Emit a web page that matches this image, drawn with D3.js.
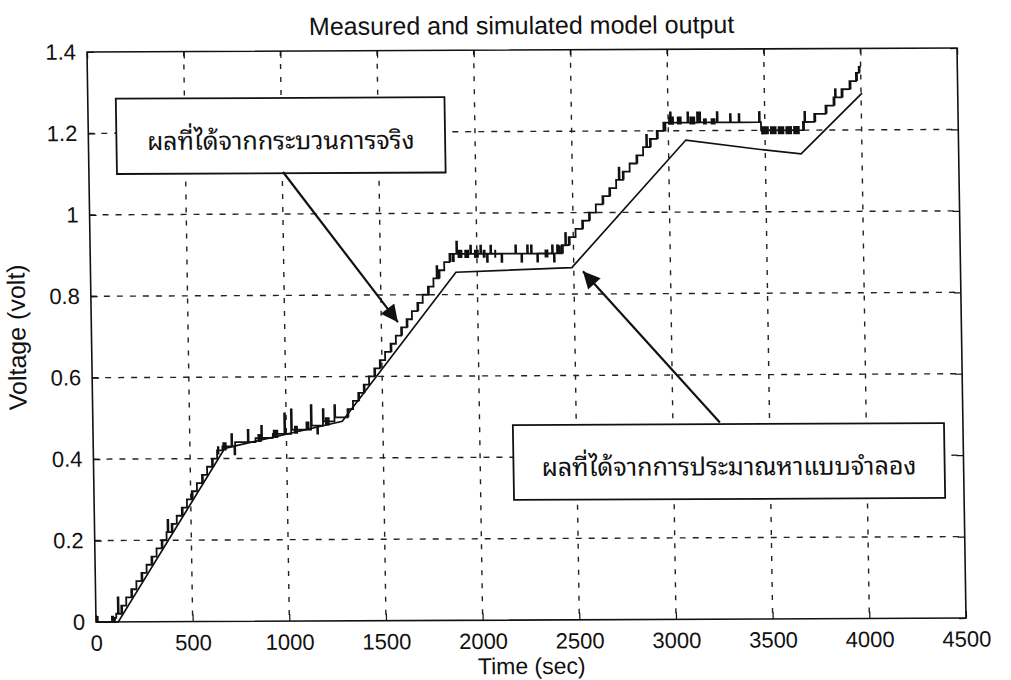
<!DOCTYPE html>
<html>
<head>
<meta charset="utf-8">
<script src="https://cdn.jsdelivr.net/npm/d3@7"></script>
<style>
  body { margin: 0; background: #fff; }
  svg text { font-family: Arial, "Liberation Sans", Helvetica, sans-serif; fill: #111; }
  svg text.thai { font-family: "Noto Sans Thai Looped", "Noto Serif Thai", "Noto Sans Thai", Tahoma, sans-serif; }
</style>
</head>
<body>
<svg id="chart"></svg>
<script>
var svg_width = 1011
var svg_height = 680
var plot_w = 870
var plot_h = 570

// TICKS
var xTicks = [0, 500, 1000, 1500, 2000, 2500, 3000, 3500, 4000, 4500];
var yTicks = [0, 0.2, 0.4, 0.6, 0.8, 1, 1.2, 1.4];
var yTickLabels = ["0", "0.2", "0.4", "0.6", "0.8", "1", "1.2", "1.4"];

// SIMULATED MODEL OUTPUT (corner points of the smooth line)
var simTime = [0, 115, 680, 1290, 1890, 2490, 3090, 3475, 3685, 4005];
var simVolt = [0, 0, 0.425, 0.49, 0.855, 0.865, 1.177, 1.153, 1.142, 1.29];

// MEASURED OUTPUT, [time, volt] where the quantized signal changes level
var measuredStart = [[0, 0], [98, 0.01]];
var measuredRise1 = [[105, 0.02], [114, 0.06], [118, 0.02], [132, 0.04], [158, 0.06], [185, 0.08],
    [212, 0.10], [239, 0.12], [266, 0.14], [292, 0.16], [319, 0.18], [346, 0.20], [372, 0.22],
    [378, 0.25], [382, 0.22], [399, 0.24], [426, 0.26], [453, 0.28], [480, 0.30], [506, 0.32],
    [533, 0.34], [560, 0.36], [587, 0.38], [613, 0.40], [640, 0.42]];
var measuredPlateau1 = [[668, 0.43], [715, 0.46], [719, 0.43], [730, 0.41], [734, 0.44], [800, 0.47],
    [804, 0.44], [840, 0.45], [870, 0.48], [874, 0.45], [930, 0.46], [990, 0.51], [994, 0.46],
    [1025, 0.52], [1029, 0.47], [1128, 0.53], [1132, 0.48], [1160, 0.46], [1164, 0.48],
    [1190, 0.52], [1194, 0.49], [1250, 0.53], [1254, 0.50]];
var measuredRise2 = [[1318, 0.52], [1347, 0.54], [1375, 0.56], [1404, 0.58], [1432, 0.60], [1460, 0.62],
    [1489, 0.64], [1517, 0.66], [1546, 0.68], [1574, 0.70], [1602, 0.72], [1631, 0.74], [1659, 0.76],
    [1688, 0.78], [1716, 0.80], [1744, 0.82], [1773, 0.84], [1790, 0.87], [1794, 0.84], [1801, 0.86],
    [1830, 0.88], [1858, 0.90]];
var measuredPlateau2 = [[1894, 0.93], [1898, 0.90], [1966, 0.92], [1970, 0.90], [2018, 0.92], [2022, 0.90],
    [2052, 0.88], [2056, 0.90], [2070, 0.92], [2074, 0.90], [2127, 0.88], [2131, 0.90], [2199, 0.92],
    [2203, 0.90], [2230, 0.88], [2234, 0.90], [2260, 0.92], [2264, 0.90], [2280, 0.92], [2284, 0.90],
    [2312, 0.88], [2316, 0.90], [2389, 0.92], [2393, 0.90], [2398, 0.88], [2402, 0.90], [2415, 0.92],
    [2419, 0.90]];
var measuredRise3 = [[2440, 0.92], [2458, 0.95], [2462, 0.92], [2476, 0.94], [2512, 0.96], [2547, 0.98],
    [2583, 1.00], [2619, 1.02], [2654, 1.04], [2690, 1.06], [2726, 1.08], [2740, 1.11], [2744, 1.08],
    [2761, 1.10], [2797, 1.12], [2833, 1.14], [2868, 1.16], [2885, 1.19], [2889, 1.16], [2904, 1.18],
    [2940, 1.20], [2975, 1.22]];
var measuredPlateau3 = [[3010, 1.245], [3014, 1.22], [3100, 1.245], [3104, 1.22], [3150, 1.245],
    [3154, 1.22], [3162, 1.245], [3166, 1.22], [3252, 1.245], [3256, 1.22], [3320, 1.24], [3324, 1.22],
    [3365, 1.24], [3369, 1.22], [3470, 1.245], [3474, 1.22], [3480, 1.20]];
var measuredRise4 = [[3697, 1.22], [3705, 1.245], [3709, 1.22], [3756, 1.24], [3815, 1.26], [3857, 1.28],
    [3865, 1.30], [3869, 1.28], [3899, 1.30], [3941, 1.32], [3975, 1.34], [3990, 1.355], [4000, 1.355]];

// fast chatter between two levels: [t0, t1, vLow, vHigh]
var chatter = [
    [0, 14, 0, 0.015], [78, 94, 0, 0.015], [132, 141, 0.02, 0.04], [185, 194, 0.06, 0.08],
    [239, 248, 0.10, 0.12], [292, 301, 0.14, 0.16], [346, 355, 0.18, 0.20], [399, 408, 0.22, 0.24],
    [453, 462, 0.26, 0.28], [506, 515, 0.30, 0.32], [560, 569, 0.34, 0.36], [613, 622, 0.38, 0.40],
    [640, 652, 0.41, 0.43],
    [668, 690, 0.42, 0.44], [850, 872, 0.44, 0.46], [930, 958, 0.45, 0.47], [1040, 1060, 0.46, 0.48],
    [1100, 1120, 0.47, 0.49], [1200, 1225, 0.48, 0.50],
    [1318, 1327, 0.50, 0.52], [1375, 1384, 0.54, 0.56], [1404, 1413, 0.56, 0.58], [1460, 1469, 0.60, 0.62],
    [1489, 1498, 0.62, 0.64], [1546, 1555, 0.66, 0.68], [1602, 1611, 0.70, 0.72], [1631, 1640, 0.72, 0.74],
    [1688, 1697, 0.76, 0.78], [1744, 1753, 0.80, 0.82], [1801, 1810, 0.84, 0.86], [1858, 1868, 0.88, 0.90],
    [1870, 1885, 0.88, 0.90], [1900, 1925, 0.89, 0.91], [1935, 1960, 0.89, 0.91], [1985, 2010, 0.89, 0.91],
    [2030, 2045, 0.89, 0.91], [2090, 2100, 0.89, 0.91], [2350, 2370, 0.89, 0.91], [2420, 2435, 0.90, 0.92],
    [2440, 2450, 0.90, 0.92], [2476, 2486, 0.92, 0.94], [2547, 2556, 0.96, 0.98], [2583, 2592, 0.98, 1.00],
    [2654, 2663, 1.02, 1.04], [2690, 2699, 1.04, 1.06], [2761, 2770, 1.08, 1.10], [2833, 2842, 1.12, 1.14],
    [2904, 2913, 1.16, 1.18], [2940, 2950, 1.18, 1.20], [2975, 2990, 1.20, 1.22],
    [3000, 3030, 1.215, 1.235], [3045, 3070, 1.215, 1.235], [3110, 3140, 1.215, 1.235],
    [3180, 3200, 1.215, 1.23], [3220, 3245, 1.215, 1.23],
    [3480, 3520, 1.19, 1.21], [3526, 3560, 1.19, 1.21], [3566, 3600, 1.19, 1.21],
    [3606, 3640, 1.19, 1.21], [3646, 3680, 1.19, 1.21],
    [3697, 3707, 1.20, 1.22], [3756, 3766, 1.22, 1.24], [3815, 3825, 1.24, 1.26], [3857, 3867, 1.26, 1.28],
    [3899, 3909, 1.28, 1.30], [3941, 3951, 1.30, 1.32], [3975, 3985, 1.32, 1.34], [3990, 3999, 1.34, 1.355]
];

// ANNOTATIONS (in data units)
var boxLabels = ["ผลที่ได้จากกระบวนการจริง", "ผลที่ได้จากการประมาณหาแบบจำลอง"];
var boxTime = [[145, 1845], [2172, 4402]];
var boxVolt = [[1.285, 1.10], [0.479, 0.295]];
var arrowFrom = [[1004, 1.103], [3243, 0.483]];
var arrowTo = [[1586, 0.733], [2547, 0.856]];

var simulated = simTime.map(function(t, i) { return [t, simVolt[i]]; });
var measured = [].concat(measuredStart, measuredRise1, measuredPlateau1, measuredRise2,
                         measuredPlateau2, measuredRise3, measuredPlateau3, measuredRise4);

//SCALES
var xScale = d3.scaleLinear().domain([0, 4500]).range([0, plot_w]);
var yScale = d3.scaleLinear().domain([0, 1.4]).range([plot_h, 0]);

var svg = d3.select("#chart")
    .attr("width", svg_width)
    .attr("height", svg_height);

svg.append("rect")
    .attr("width", svg_width)
    .attr("height", svg_height)
    .attr("fill", "#fff");

// the scanned figure sits slightly skewed on the page
var g = svg.append("g")
    .attr("transform", "matrix(1,-0.0046,0.0158,1,87,52)");

svg.append("defs").append("marker")
    .attr("id", "head")
    .attr("viewBox", "0 0 10 10")
    .attr("refX", 10)
    .attr("refY", 5)
    .attr("markerUnits", "userSpaceOnUse")
    .attr("markerWidth", 21)
    .attr("markerHeight", 17)
    .attr("orient", "auto")
  .append("path")
    .attr("d", "M0,0 L10,5 L0,10 z")
    .attr("fill", "#111");

// GRID
g.append("g")
  .selectAll("line")
  .data(xTicks.slice(1, -1))
  .enter()
  .append("line")
    .attr("x1", function(d) { return xScale(d); })
    .attr("x2", function(d) { return xScale(d); })
    .attr("y1", 0)
    .attr("y2", plot_h)
    .attr("stroke", "#222")
    .attr("stroke-width", 1.4)
    .attr("stroke-dasharray", "5,8");

g.append("g")
  .selectAll("line")
  .data(yTicks.slice(1, -1))
  .enter()
  .append("line")
    .attr("x1", 0)
    .attr("x2", plot_w)
    .attr("y1", function(d) { return yScale(d); })
    .attr("y2", function(d) { return yScale(d); })
    .attr("stroke", "#222")
    .attr("stroke-width", 1.4)
    .attr("stroke-dasharray", "6,7");

// AXES (ticks point inwards like MATLAB)
var xAxis = d3.axisBottom(xScale).tickValues(xTicks).tickSize(-7).tickSizeOuter(0).tickPadding(13)
    .tickFormat(d3.format("d"));
var yAxis = d3.axisLeft(yScale).tickValues(yTicks).tickSize(-7).tickSizeOuter(0).tickPadding(11)
    .tickFormat(function(d, i) { return yTickLabels[i]; });

g.append("g")
    .attr("transform", "translate(0," + plot_h + ")")
    .call(xAxis);
g.append("g")
    .call(yAxis);
g.append("g")
    .call(d3.axisTop(xScale).tickValues(xTicks).tickSize(-7).tickSizeOuter(0).tickFormat(""));
g.append("g")
    .attr("transform", "translate(" + plot_w + ",0)")
    .call(d3.axisRight(yScale).tickValues(yTicks).tickSize(-7).tickSizeOuter(0).tickFormat(""));

g.selectAll(".domain").remove();
g.selectAll(".tick line").attr("stroke", "#111").attr("stroke-width", 1.2);
g.selectAll(".tick text")
    .attr("font-size", 22)
    .attr("fill", "#111");

g.append("rect")
    .attr("width", plot_w)
    .attr("height", plot_h)
    .attr("fill", "none")
    .attr("stroke", "#111")
    .attr("stroke-width", 1.6);

// LINES
var line = d3.line()
    .x(function(d) { return xScale(d[0]); })
    .y(function(d) { return yScale(d[1]); });

g.append("path")
    .datum(simulated)
    .attr("d", line)
    .attr("fill", "none")
    .attr("stroke", "#111")
    .attr("stroke-width", 1.7);

g.append("path")
    .datum(measured)
    .attr("d", line.curve(d3.curveStepAfter))
    .attr("fill", "none")
    .attr("stroke", "#111")
    .attr("stroke-width", 1.8);

g.append("g")
  .selectAll("rect")
  .data(chatter)
  .enter()
  .append("rect")
    .attr("x", function(d) { return xScale(d[0]); })
    .attr("width", function(d) { return xScale(d[1]) - xScale(d[0]); })
    .attr("y", function(d) { return yScale(d[3]); })
    .attr("height", function(d) { return yScale(d[2]) - yScale(d[3]); })
    .attr("fill", "#111");

// ANNOTATION BOXES AND ARROWS
boxLabels.forEach(function(label, i) {
    var x0 = xScale(boxTime[i][0]), x1 = xScale(boxTime[i][1]);
    var y0 = yScale(boxVolt[i][0]), y1 = yScale(boxVolt[i][1]);
    g.append("rect")
        .attr("x", x0)
        .attr("y", y0)
        .attr("width", x1 - x0)
        .attr("height", y1 - y0)
        .attr("fill", "#fff")
        .attr("stroke", "#111")
        .attr("stroke-width", 1.8);
    g.append("text")
        .attr("class", "thai")
        .attr("x", (x0 + x1) / 2)
        .attr("y", (y0 + y1) / 2)
        .attr("dy", "0.55em")
        .attr("text-anchor", "middle")
        .attr("font-size", 25)
        .text(label);
    g.append("line")
        .attr("x1", xScale(arrowFrom[i][0]))
        .attr("y1", yScale(arrowFrom[i][1]))
        .attr("x2", xScale(arrowTo[i][0]))
        .attr("y2", yScale(arrowTo[i][1]))
        .attr("stroke", "#111")
        .attr("stroke-width", 2.2)
        .attr("marker-end", "url(#head)");
});

// LABELS & TITLE
g.append("text")
    .attr("x", plot_w / 2)
    .attr("y", -16)
    .attr("text-anchor", "middle")
    .attr("font-size", 25)
    .text("Measured and simulated model output");

g.append("text")
    .attr("x", plot_w / 2)
    .attr("y", 624)
    .attr("text-anchor", "middle")
    .attr("font-size", 23)
    .text("Time (sec)");

g.append("text")
    .attr("transform", "translate(-66," + (plot_h / 2) + ") rotate(-90)")
    .attr("text-anchor", "middle")
    .attr("font-size", 25)
    .text("Voltage (volt)");
</script>
</body>
</html>
